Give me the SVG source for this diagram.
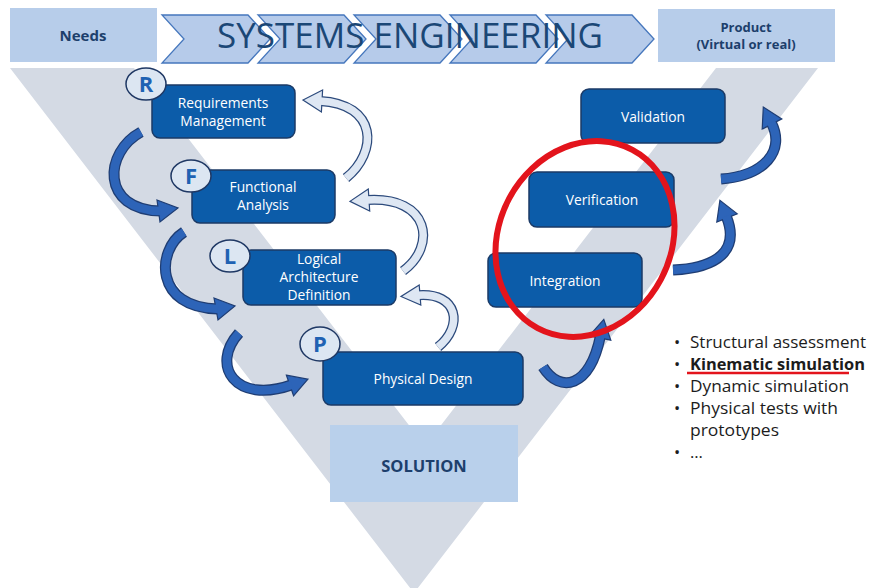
<svg xmlns="http://www.w3.org/2000/svg" width="869" height="588" viewBox="0 0 869 588">
  <style>
    .band { fill: #d4dae4; }
    .hdr { fill: #b7cdea; }
    .chev { fill: #b6cbea; stroke: #4677bd; stroke-width: 1.3; stroke-linejoin: miter; }
    .hdr-txt { font-family: "Open Sans", "Liberation Sans", sans-serif; font-weight: bold; fill: #1d3f6c; text-anchor: middle; }
    .big { font-family: "Open Sans", "Liberation Sans", sans-serif; font-size: 34px; fill: #1b4776; }
    .box { fill: #0c5ca9; stroke: #1b3a66; stroke-width: 1.5; }
    .lbl { font-family: "Open Sans", "Liberation Sans", sans-serif; font-size: 13.8px; fill: #ffffff; text-anchor: middle; }
    .tag { fill: #dce6f2; stroke: #1f3864; stroke-width: 1.5; }
    .tag-txt { font-family: "Open Sans", "Liberation Sans", sans-serif; font-size: 22px; font-weight: bold; fill: #1f62b3; text-anchor: middle; }
    .sol { fill: #b9d0eb; }
    .db-o { fill: none; stroke: #1f3d73; stroke-width: 11; }
    .db-i { fill: none; stroke: #2d64b8; stroke-width: 8.5; }
    .db-h { fill: #2d64b8; stroke: #1f3d73; stroke-width: 1.2; stroke-linejoin: miter; }
    .lt-o { fill: none; stroke: #2c4a7c; stroke-width: 10; }
    .lt-i { fill: none; stroke: #dee7f3; stroke-width: 7.5; }
    .lt-h { fill: #dee7f3; stroke: #2c4a7c; stroke-width: 1.2; stroke-linejoin: miter; }
    .list { font-family: "Open Sans", "Liberation Sans", sans-serif; font-size: 16.5px; fill: #1c1c1c; }
  </style>

  <!-- V-shaped background band -->
  <path class="band" fill-rule="evenodd" d="M10,68 L818,68 L414,593 Z M134,68 L716,68 L425,446 Z"/>

  <!-- header row -->
  <g id="needs">
    <rect class="hdr" x="10" y="8" width="147" height="54"/>
    <text class="hdr-txt" x="83" y="41" font-size="15">Needs</text>
  </g>
  <g id="systems-engineering">
    <path class="chev" d="M162,15 L248,15 L270,39 L248,63 L162,63 L184,39 Z"/>
    <path class="chev" d="M258,15 L344,15 L366,39 L344,63 L258,63 L280,39 Z"/>
    <path class="chev" d="M354,15 L440,15 L462,39 L440,63 L354,63 L376,39 Z"/>
    <path class="chev" d="M450,15 L536,15 L558,39 L536,63 L450,63 L472,39 Z"/>
    <path class="chev" d="M546,15 L632,15 L654,39 L632,63 L546,63 L568,39 Z"/>
    <text class="big" x="217" y="48" textLength="386" lengthAdjust="spacingAndGlyphs">SYSTEMS ENGINEERING</text>
  </g>
  <g id="product">
    <rect class="hdr" x="658" y="9" width="177" height="53"/>
    <text class="hdr-txt" x="746" y="32" font-size="13">Product</text>
    <text class="hdr-txt" x="746" y="49" font-size="13">(Virtual or real)</text>
  </g>

  <!-- solution block at the bottom of the V -->
  <g id="solution">
    <rect class="sol" x="330" y="425" width="188" height="77"/>
    <text class="hdr-txt" x="424" y="472" font-size="16.5">SOLUTION</text>
  </g>

  <!-- flow arrows -->
  <g id="connectors">
    <!-- descending branch -->
    <path class="db-o" d="M141,132 C104,152 100,210 161,211"/>
    <polygon class="db-h" points="157,200 178,208 160,222"/>
    <path class="db-i" d="M141,132 C104,152 100,210 161,211"/>

    <path class="db-o" d="M184,232 C156,250 154,308 218,309"/>
    <polygon class="db-h" points="214,298 235,306 218,320"/>
    <path class="db-i" d="M184,232 C156,250 154,308 218,309"/>

    <path class="db-o" d="M239,333 C210,365 235,405 292,384.8"/>
    <polygon class="db-h" points="286.4,375.2 307.9,379.2 293.6,395.8"/>
    <path class="db-i" d="M239,333 C210,365 235,405 292,384.8"/>

    <!-- ascending branch -->
    <path class="db-o" d="M543,367 C560,394 590,388 600.4,336"/>
    <polygon class="db-h" points="589.2,335.8 603.8,319.4 610.8,340.2"/>
    <path class="db-i" d="M543,367 C560,394 590,388 600.4,336"/>

    <path class="db-o" d="M673,270 C718,268 740,250 726.2,216.1"/>
    <polygon class="db-h" points="716.8,222.1 719.9,200.4 737.2,213.9"/>
    <path class="db-i" d="M673,270 C718,268 740,250 726.2,216.1"/>

    <path class="db-o" d="M721,179 C764,176 786,151 771.1,122.2"/>
    <polygon class="db-h" points="762.2,129.1 763.3,107.1 781.8,118.9"/>
    <path class="db-i" d="M721,179 C764,176 786,151 771.1,122.2"/>

    <!-- feedback loops -->
    <path class="lt-o" d="M346,178 C378,152 378,104 320,100.9"/>
    <polygon class="lt-h" points="322.6,90 303,100 321.4,112"/>
    <path class="lt-i" d="M346,178 C378,152 378,104 320,100.9"/>

    <path class="lt-o" d="M403,271 C437,246 430,196 367,200.1"/>
    <polygon class="lt-h" points="368.3,189 350,201.3 369.7,211"/>
    <path class="lt-i" d="M403,271 C437,246 430,196 367,200.1"/>

    <path class="lt-o" d="M438,347 C464,326 458,292 418,295.2"/>
    <polygon class="lt-h" points="419.2,285 401,296.5 420.8,305"/>
    <path class="lt-i" d="M438,347 C464,326 458,292 418,295.2"/>
  </g>

  <!-- process steps -->
  <g id="requirements">
    <rect class="box" x="152" y="85" width="143" height="53" rx="8"/>
    <text class="lbl" x="223" y="108">Requirements</text>
    <text class="lbl" x="223" y="126">Management</text>
    <ellipse class="tag" cx="146" cy="84" rx="20" ry="16"/>
    <text class="tag-txt" x="146" y="92">R</text>
  </g>
  <g id="functional">
    <rect class="box" x="192" y="170" width="143" height="53" rx="8"/>
    <text class="lbl" x="263" y="192">Functional</text>
    <text class="lbl" x="263" y="210">Analysis</text>
    <ellipse class="tag" cx="191" cy="176" rx="20" ry="16"/>
    <text class="tag-txt" x="191" y="184">F</text>
  </g>
  <g id="logical">
    <rect class="box" x="243" y="250" width="153" height="55" rx="8"/>
    <text class="lbl" x="319" y="264">Logical</text>
    <text class="lbl" x="319" y="282">Architecture</text>
    <text class="lbl" x="319" y="300">Definition</text>
    <ellipse class="tag" cx="230" cy="256" rx="20" ry="16"/>
    <text class="tag-txt" x="230" y="264">L</text>
  </g>
  <g id="physical">
    <rect class="box" x="323" y="352" width="200" height="53" rx="8"/>
    <text class="lbl" x="423" y="384">Physical Design</text>
    <ellipse class="tag" cx="320" cy="344" rx="20" ry="17"/>
    <text class="tag-txt" x="320" y="352">P</text>
  </g>
  <g id="integration">
    <rect class="box" x="488" y="253" width="154" height="54" rx="8"/>
    <text class="lbl" x="565" y="286">Integration</text>
  </g>
  <g id="verification">
    <rect class="box" x="529" y="172" width="145" height="55" rx="8"/>
    <text class="lbl" x="602" y="205">Verification</text>
  </g>
  <g id="validation">
    <rect class="box" x="581" y="89" width="144" height="54" rx="8"/>
    <text class="lbl" x="653" y="122">Validation</text>
  </g>

  <!-- highlight -->
  <ellipse cx="585" cy="239" rx="86" ry="101" transform="rotate(28 585 239)" fill="none" stroke="#e3141c" stroke-width="6"/>

  <!-- simulation methods -->
  <g id="methods">
    <text class="list" x="674" y="348">•</text>
    <text class="list" x="690" y="348" textLength="176" lengthAdjust="spacingAndGlyphs">Structural assessment</text>
    <text class="list" x="674" y="370">•</text>
    <text class="list" x="690" y="370" font-weight="bold" textLength="175" lengthAdjust="spacingAndGlyphs">Kinematic simulation</text>
    <line x1="687" y1="373" x2="849" y2="373" stroke="#e3141c" stroke-width="2.7"/>
    <text class="list" x="674" y="392">•</text>
    <text class="list" x="690" y="392" textLength="159" lengthAdjust="spacingAndGlyphs">Dynamic simulation</text>
    <text class="list" x="674" y="414">•</text>
    <text class="list" x="690" y="414" textLength="148" lengthAdjust="spacingAndGlyphs">Physical tests with</text>
    <text class="list" x="690" y="436" textLength="89" lengthAdjust="spacingAndGlyphs">prototypes</text>
    <text class="list" x="674" y="458">•</text>
    <text class="list" x="690" y="458">…</text>
  </g>
</svg>
